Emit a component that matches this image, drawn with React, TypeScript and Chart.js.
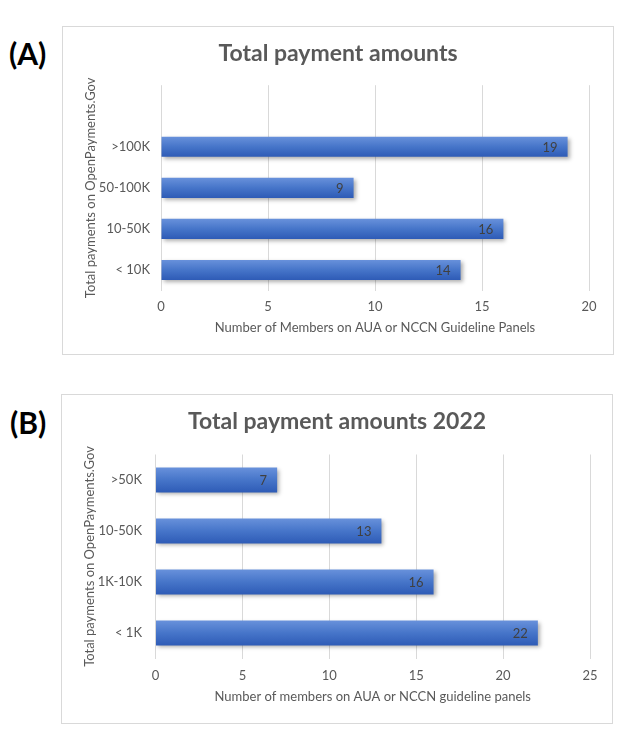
import React, { useEffect, useRef } from "react";
import { Chart, registerables } from "chart.js";

Chart.register(...registerables);

// ---------- Data ----------
const titleA = "Total payment amounts";
const categoriesA = ["", ">100K", "50-100K", "10-50K", "< 10K"];
const valuesA: (number | null)[] = [null, 19, 9, 16, 14];
const xMaxA = 20;
const xTitleA = "Number of Members on AUA or NCCN Guideline Panels";

const titleB = "Total payment amounts 2022";
const categoriesB = [">50K", "10-50K", "1K-10K", "< 1K"];
const valuesB: number[] = [7, 13, 16, 22];
const xMaxB = 25;
const xTitleB = "Number of members on AUA or NCCN guideline panels";

const yTitle = "Total payments on OpenPayments.Gov";
const xStep = 5;

// ---------- Styles ----------
const FONT = "Lato, Carlito, 'Open Sans', sans-serif";
const TEXT = "#595959";
const BAR_PCT = 0.49;

function barGradient(ctx: any) {
  const chart = ctx.chart;
  const area = chart.chartArea;
  if (!area || ctx.type !== "data") return "#4472c4";
  const ys = chart.scales.y;
  const c = ys.getPixelForValue(ctx.dataIndex);
  const n = chart.data.labels.length;
  const h = ((area.bottom - area.top) / n) * BAR_PCT;
  const g = chart.ctx.createLinearGradient(0, c - h / 2, 0, c + h / 2);
  g.addColorStop(0, "#6891db");
  g.addColorStop(0.5, "#4675c9");
  g.addColorStop(1, "#2e5bb6");
  return g;
}

const barDecor = {
  id: "barDecor",
  beforeDatasetsDraw(chart: any) {
    const c = chart.ctx;
    c.save();
    c.shadowColor = "rgba(0,0,0,0.32)";
    c.shadowBlur = 4;
    c.shadowOffsetX = 2;
    c.shadowOffsetY = 2;
  },
  afterDatasetsDraw(chart: any) {
    const c = chart.ctx;
    c.restore();
    const meta = chart.getDatasetMeta(0);
    const data = chart.data.datasets[0].data;
    c.save();
    c.font = `13px ${FONT}`;
    c.fillStyle = "#404040";
    c.textAlign = "right";
    c.textBaseline = "middle";
    meta.data.forEach((el: any, i: number) => {
      const v = data[i];
      if (v == null) return;
      c.fillText(String(v), el.x - 10, el.y + 1);
    });
    c.restore();
  },
};

interface Cfg {
  title: string;
  categories: string[];
  values: (number | null)[];
  xMax: number;
  xTitle: string;
  width: number;
  height: number;
  padRight: number;
  titlePadTop: number;
  titlePadBottom: number;
  yWidth: number;
  yTickPad: number;
  xHeight: number;
  xTickPad: number;
  xTitlePadBottom: number;
}

function BarChart(p: Cfg) {
  const ref = useRef<HTMLCanvasElement | null>(null);
  useEffect(() => {
    if (!ref.current) return;
    const chart = new Chart(ref.current, {
      type: "bar",
      data: {
        labels: p.categories,
        datasets: [
          {
            data: p.values as any,
            backgroundColor: barGradient as any,
            borderWidth: 0,
            barPercentage: BAR_PCT,
            categoryPercentage: 1,
          },
        ],
      },
      options: {
        indexAxis: "y",
        animation: false,
        responsive: false,
        devicePixelRatio: 1,
        layout: { padding: 0 },
        plugins: {
          legend: { display: false },
          tooltip: { enabled: false },
          title: {
            display: true,
            text: p.title,
            color: TEXT,
            font: { family: FONT, size: 23, weight: "bold", lineHeight: 1.2 },
            padding: { top: p.titlePadTop, bottom: p.titlePadBottom },
          },
        },
        scales: {
          x: {
            min: 0,
            max: p.xMax,
            ticks: { stepSize: xStep, color: TEXT, font: { family: FONT, size: 13 }, padding: p.xTickPad },
            grid: { color: "#d9d9d9", drawTicks: false },
            border: { display: false },
            title: {
              display: true,
              text: p.xTitle,
              color: TEXT,
              font: { family: FONT, size: 13, lineHeight: 1.2 },
              padding: { top: 0, bottom: p.xTitlePadBottom },
            },
            afterFit: (s: any) => {
              s.height = p.xHeight;
            },
          },
          y: {
            grid: { display: false, drawTicks: false },
            border: { display: false },
            ticks: { color: TEXT, font: { family: FONT, size: 13 }, padding: p.yTickPad },
            title: {
              display: true,
              text: yTitle,
              color: TEXT,
              font: { family: FONT, size: 13, lineHeight: 1.2 },
              padding: { top: 20, bottom: 0 },
            },
            afterFit: (s: any) => {
              s.width = p.yWidth;
            },
          },
          // empty right-hand spacer so the title stays centred on the whole box
          spacer: {
            type: "linear",
            axis: "y",
            position: "right",
            display: true,
            grid: { display: false, drawTicks: false },
            border: { display: false },
            ticks: { display: false },
            afterFit: (s: any) => {
              s.width = p.padRight;
            },
          },
        },
      } as any,
      plugins: [barDecor],
    });
    return () => chart.destroy();
  }, []);
  return <canvas ref={ref} width={p.width} height={p.height} style={{ display: "block" }} />;
}

const boxStyle = (left: number, top: number, w: number, h: number): React.CSSProperties => ({
  position: "absolute",
  left,
  top,
  width: w,
  height: h,
  border: "1px solid #d9d9d9",
  boxSizing: "border-box",
  background: "#fff",
});

const panelLabel = (left: number, top: number): React.CSSProperties => ({
  position: "absolute",
  left,
  top,
  fontFamily: FONT,
  fontWeight: "bold",
  fontSize: 30,
  lineHeight: "36px",
  color: "#000",
});

export default function App() {
  return (
    <div style={{ position: "absolute", left: 0, top: 0, width: 626, height: 742, background: "#fff", overflow: "hidden" }}>
      <div style={panelLabel(9, 35)}>(A)</div>
      <div style={boxStyle(62, 26, 552, 329)}>
        <BarChart
          title={titleA}
          categories={categoriesA}
          values={valuesA}
          xMax={xMaxA}
          xTitle={xTitleA}
          width={550}
          height={327}
          padRight={24}
          titlePadTop={12.8}
          titlePadBottom={17.8}
          yWidth={98}
          yTickPad={11}
          xHeight={63.5}
          xTickPad={9}
          xTitlePadBottom={18}
        />
      </div>
      <div style={panelLabel(10, 404)}>(B)</div>
      <div style={boxStyle(61, 394, 552, 330)}>
        <BarChart
          title={titleB}
          categories={categoriesB}
          values={valuesB}
          xMax={xMaxB}
          xTitle={xTitleB}
          width={550}
          height={328}
          padRight={22}
          titlePadTop={13.2}
          titlePadBottom={18.7}
          yWidth={93.5}
          yTickPad={13.5}
          xHeight={64.5}
          xTickPad={10}
          xTitlePadBottom={18}
        />
      </div>
    </div>
  );
}
